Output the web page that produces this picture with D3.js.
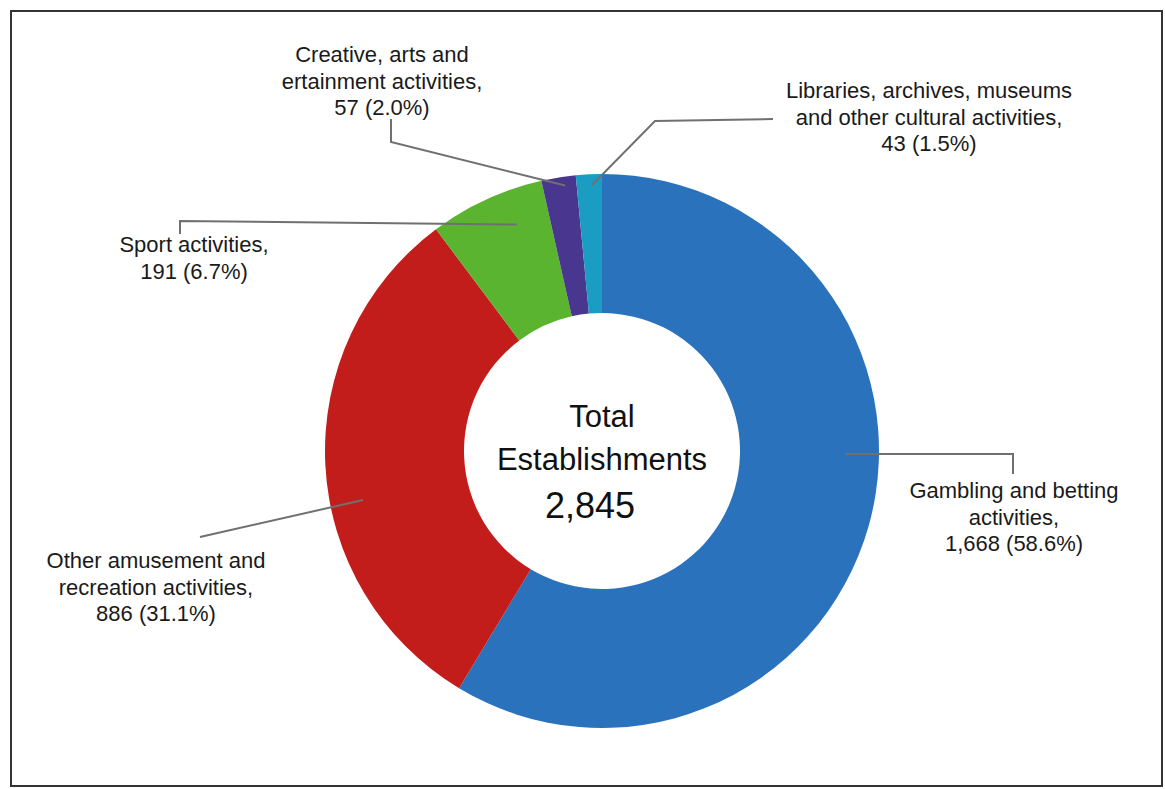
<!DOCTYPE html>
<html>
<head>
<meta charset="utf-8">
<script src="https://cdn.jsdelivr.net/npm/d3@7"></script>
<style>
  body { margin: 0; background: #ffffff; }
  svg { display: block; font-family: "Liberation Sans", Arial, sans-serif; }
</style>
</head>
<body>
<div id="chart"></div>
<script>
// data
const categories = [
  "Gambling and betting activities",
  "Other amusement and recreation activities",
  "Sport activities",
  "Creative, arts and ertainment activities",
  "Libraries, archives, museums and other cultural activities"
];
const counts = [1668, 886, 191, 57, 43];
const percents = ["58.6%", "31.1%", "6.7%", "2.0%", "1.5%"];
const labelLines = [
  ["Gambling and betting", "activities,"],
  ["Other amusement and", "recreation activities,"],
  ["Sport activities,"],
  ["Creative, arts and", "ertainment activities,"],
  ["Libraries, archives, museums", "and other cultural activities,"]
];
const totalLabel = ["Total", "Establishments"];
const totalValue = 2845;

const colors = ["#2b72bd", "#c21d1b", "#5ab42f", "#48368f", "#1b9cc3"];

// label layout: anchor point (angle in degrees clockwise from top, radius),
// leader bends, text centre and first baseline
const layout = [
  {ang: 90.7, r: 243, bends: [[1013, 454], [1013, 474]], tx: 1014, ty: 498},
  {ang: 258.4, r: 244, bends: [[200, 537]], tx: 156, ty: 568},
  {ang: 339.4, r: 242, bends: [[180, 221], [180, 234]], tx: 194, ty: 252},
  {ang: 352.1, r: 268, bends: [[391, 142], [391, 119]], tx: 382, ty: 62},
  {ang: 357.8, r: 266, bends: [[655, 121], [773, 119]], tx: 929, ty: 98}
];

const width = 1165, height = 789;
const cx = 602, cy = 451, outerR = 277, innerR = 138;
const lineH = 26.5;

const svg = d3.select("#chart")
  .append("svg")
    .attr("width", width)
    .attr("height", height);

svg.append("rect")
  .attr("width", width)
  .attr("height", height)
  .attr("fill", "#ffffff");

// frame
svg.append("rect")
  .attr("x", 11)
  .attr("y", 11)
  .attr("width", 1151)
  .attr("height", 775)
  .attr("fill", "none")
  .attr("stroke", "#333")
  .attr("stroke-width", 2);

const data = categories.map((c, i) => ({name: c, value: counts[i], pct: percents[i], i: i}));

const pie = d3.pie().sort(null).value(d => d.value);
const arc = d3.arc().innerRadius(innerR).outerRadius(outerR);

const g = svg.append("g")
  .attr("transform", `translate(${cx},${cy})`);

g.selectAll("path.slice")
  .data(pie(data))
  .join("path")
    .attr("class", "slice")
    .attr("d", arc)
    .attr("fill", d => colors[d.data.i]);

// leader lines
const fmt = d3.format(",");
const polar = (deg, r) => {
  const a = deg * Math.PI / 180;
  return [cx + r * Math.sin(a), cy - r * Math.cos(a)];
};

svg.selectAll("path.leader")
  .data(data)
  .join("path")
    .attr("class", "leader")
    .attr("d", d => {
      const L = layout[d.i];
      return d3.line()([polar(L.ang, L.r), ...L.bends]);
    })
    .attr("fill", "none")
    .attr("stroke", "#707070")
    .attr("stroke-width", 2);

// labels
const labels = svg.selectAll("text.label")
  .data(data)
  .join("text")
    .attr("class", "label")
    .attr("text-anchor", "middle")
    .attr("fill", "#1a1a1a")
    .style("font-size", "22px");

labels.each(function(d) {
  const L = layout[d.i];
  const lines = labelLines[d.i].concat([fmt(d.value) + " (" + d.pct + ")"]);
  d3.select(this).selectAll("tspan")
    .data(lines)
    .join("tspan")
      .attr("x", L.tx)
      .attr("y", (t, k) => L.ty + k * lineH)
      .text(t => t);
});

// centre text
svg.append("text")
  .attr("x", cx)
  .attr("y", 427)
  .attr("text-anchor", "middle")
  .style("font-size", "31px")
  .attr("fill", "#111")
  .text(totalLabel[0]);

svg.append("text")
  .attr("x", cx)
  .attr("y", 470)
  .attr("text-anchor", "middle")
  .style("font-size", "31px")
  .attr("fill", "#111")
  .text(totalLabel[1]);

svg.append("text")
  .attr("x", cx - 12)
  .attr("y", 518)
  .attr("text-anchor", "middle")
  .style("font-size", "36px")
  .attr("fill", "#111")
  .text(fmt(totalValue));
</script>
</body>
</html>
